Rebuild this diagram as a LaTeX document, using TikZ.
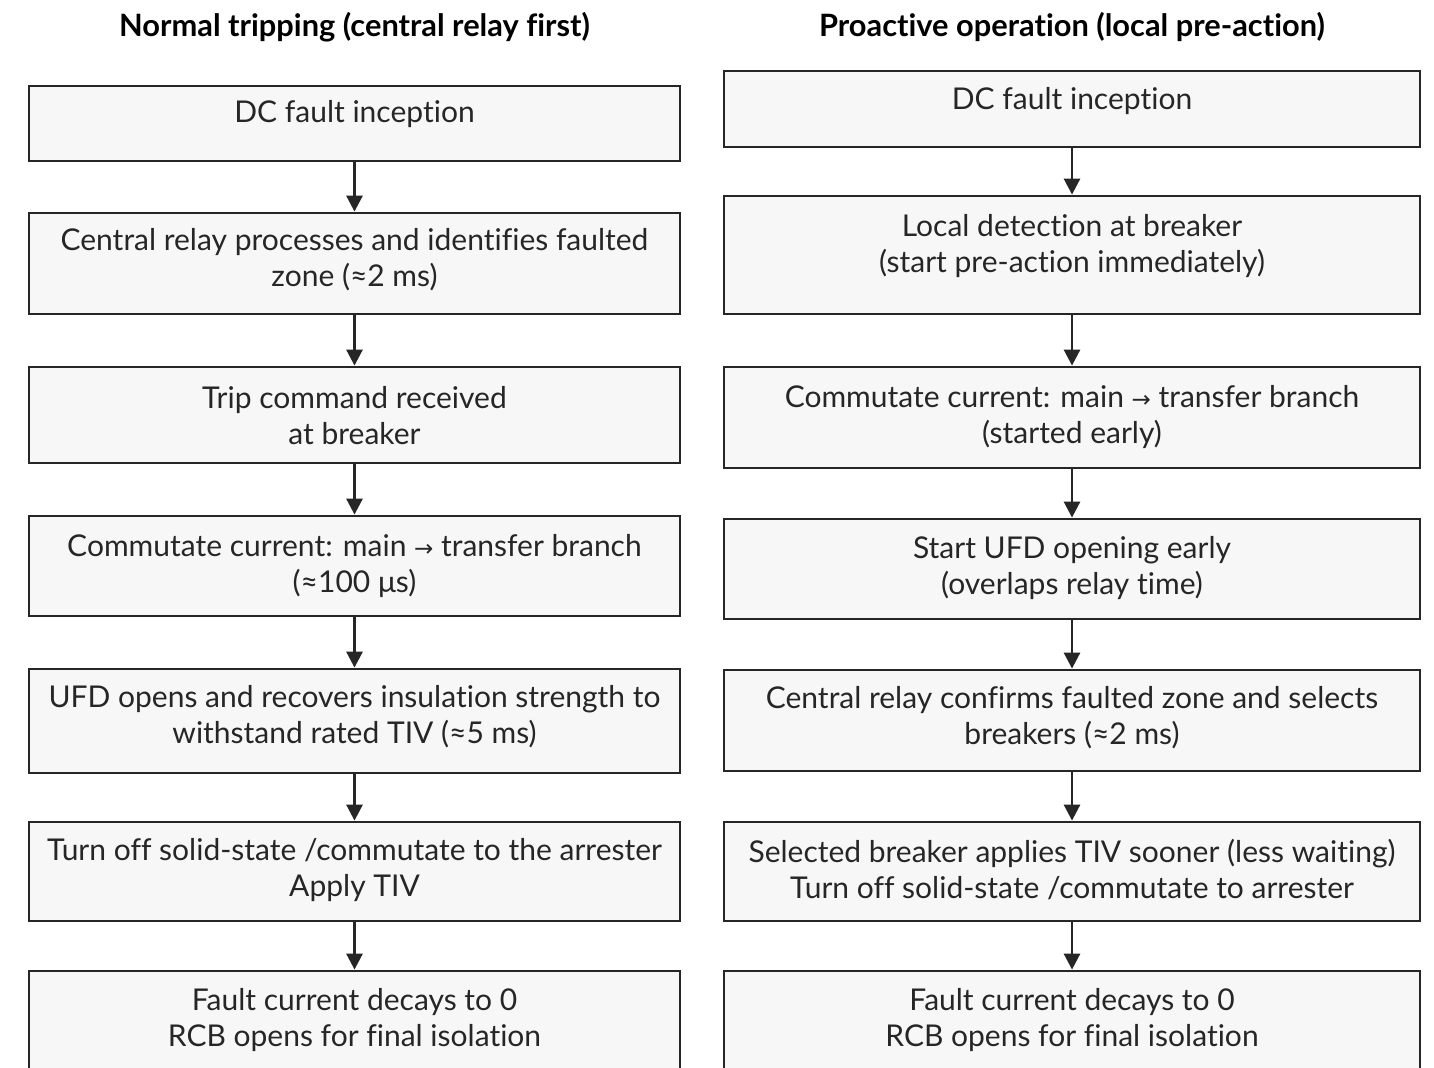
\documentclass[tikz,border=0pt]{standalone}
\usepackage{fontspec}
\setmainfont{Lato}[Ligatures={NoCommon}]
\newfontfamily\arrowfont{DejaVu Sans}
\usetikzlibrary{arrows.meta,fit}

\definecolor{boxline}{HTML}{262626}
\definecolor{boxfill}{HTML}{F7F7F7}
\definecolor{ink}{HTML}{262626}

\newcommand\rarr{{\arrowfont\fontsize{11.5}{11.5}\selectfont →}}

\tikzset{
  stepbox/.style={draw=boxline, fill=boxfill, line width=1.4pt, rectangle, inner sep=0pt},
  steptext/.style={text=ink, font=\fontsize{15}{18}\selectfont, align=center, inner sep=0pt, yshift=-1pt},
  heading/.style={text=black, font=\bfseries\fontsize{15.4}{18}\selectfont, inner sep=0pt, yshift=-1pt},
  flow/.style={draw=boxline, line width=1.4pt, -{Triangle[length=8pt,width=8pt]}},
}

\begin{document}
\begin{tikzpicture}[x=0.5pt,y=-0.5pt]
  \useasboundingbox (0,0) rectangle (1434,1068);
  \clip (0,0) rectangle (1434,1068);
  \fill[white] (0,0) rectangle (1434,1068);

  % column headings
  \node[heading] (hl) at (354.5,25) {Normal tripping (central relay first)};
  \node[heading] (hr) at (1072,25) {Proactive operation (local pre-action)};

  % left column: normal tripping
  \node[stepbox, fit={(29,86) (680,161)}]  (L1) {};
  \node[stepbox, fit={(29,213) (680,314)}] (L2) {};
  \node[stepbox, fit={(29,367) (680,463)}] (L3) {};
  \node[stepbox, fit={(29,516) (680,616)}] (L4) {};
  \node[stepbox, fit={(29,669) (680,773)}] (L5) {};
  \node[stepbox, fit={(29,822) (680,921)}] (L6) {};
  \node[stepbox, fit={(29,971) (680,1076)}] (L7) {};

  \node[steptext] (L1t) at (354.5,112) {DC fault inception};
  \node[steptext] (L2t) at (354.5,258) {Central relay processes and identifies faulted\\zone (≈2 ms)};
  \node[steptext] (L3t) at (354.5,414) {Trip command received\\at breaker};
  \node[steptext] (L4t) at (354.5,564) {Commutate current: main \rarr{} transfer branch\\(≈100 μs)};
  \node[steptext] (L5t) at (354.5,715) {UFD opens and recovers insulation strength to\\withstand rated TIV (≈5 ms)};
  \node[steptext] (L6t) at (354.5,868) {Turn off solid-state /commutate to the arrester\\Apply TIV};
  \node[steptext] (L7t) at (354.5,1018) {Fault current decays to 0\\RCB opens for final isolation};

  % right column: proactive operation
  \node[stepbox, fit={(724,71) (1420,147)}]   (R1) {};
  \node[stepbox, fit={(724,196) (1420,314)}]  (R2) {};
  \node[stepbox, fit={(724,367) (1420,468)}]  (R3) {};
  \node[stepbox, fit={(724,519) (1420,619)}]  (R4) {};
  \node[stepbox, fit={(724,670) (1420,771)}]  (R5) {};
  \node[stepbox, fit={(724,822) (1420,921)}]  (R6) {};
  \node[stepbox, fit={(724,971) (1420,1076)}] (R7) {};

  \node[steptext] (R1t) at (1072,99)  {DC fault inception};
  \node[steptext] (R2t) at (1072,244) {Local detection at breaker\\(start pre-action immediately)};
  \node[steptext] (R3t) at (1072,415) {Commutate current: main \rarr{} transfer branch\\(started early)};
  \node[steptext] (R4t) at (1072,566) {Start UFD opening early\\(overlaps relay time)};
  \node[steptext] (R5t) at (1072,716) {Central relay confirms faulted zone and selects\\breakers (≈2 ms)};
  \node[steptext] (R6t) at (1072,868) {Selected breaker applies TIV sooner (less waiting)\\Turn off solid-state /commutate to arrester};
  \node[steptext] (R7t) at (1072,1018) {Fault current decays to 0\\RCB opens for final isolation};

  % connectors
  \foreach \a/\b in {1/2,2/3,3/4,4/5,5/6,6/7} {
    \draw[flow] (L\a.south) -- (L\b.north);
    \draw[flow] (R\a.south) -- (R\b.north);
  }
\end{tikzpicture}
\end{document}
